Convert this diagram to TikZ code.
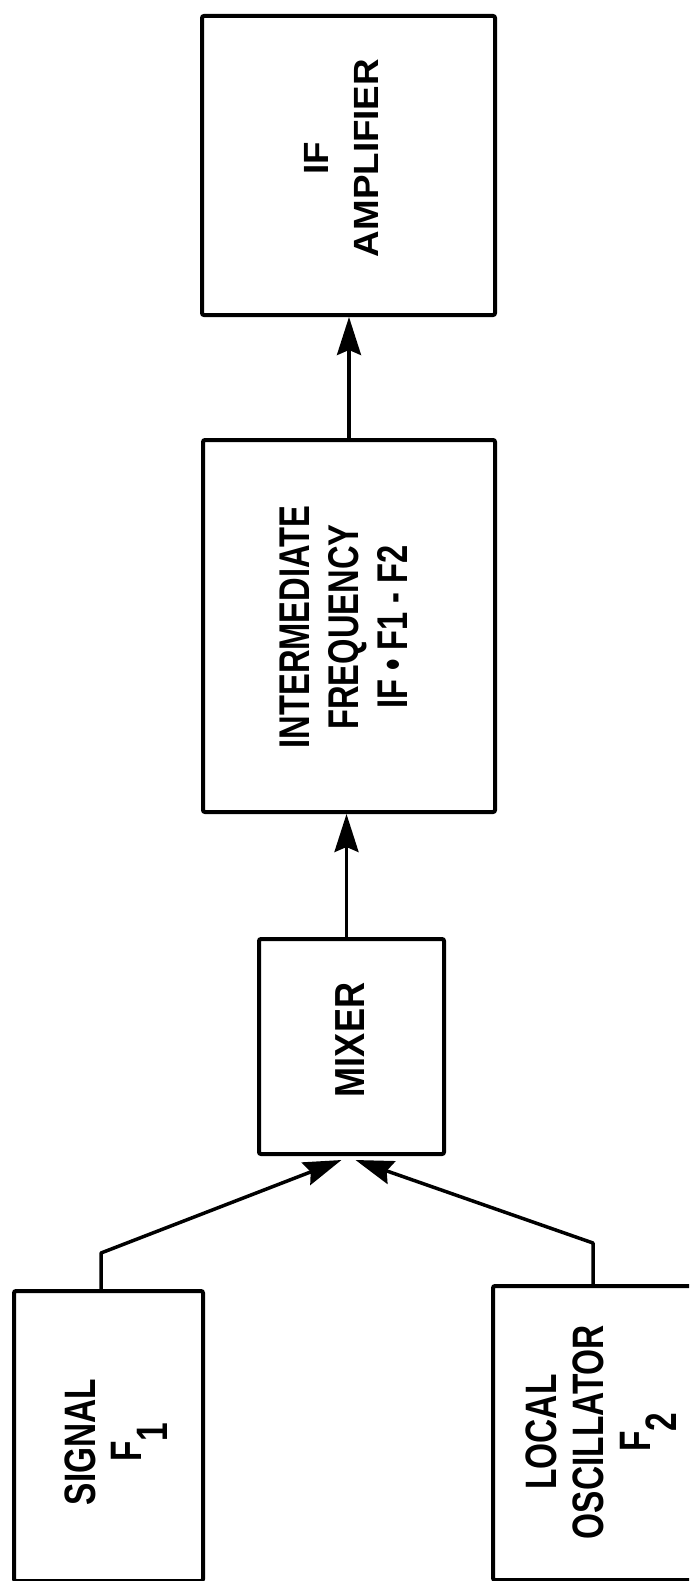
\documentclass[tikz,border=0pt]{standalone}
\usepackage{fontspec}
\setmainfont{Liberation Sans}
\newfontfamily\cond[FakeStretch=0.76]{Liberation Sans Bold}
\newfontfamily\mixf[FakeStretch=0.86]{Liberation Sans Bold}
\newfontfamily\ampf[FakeStretch=1.05]{Liberation Sans Bold}
\usetikzlibrary{arrows.meta}
\begin{document}
\begin{tikzpicture}[x=1pt,y=-1pt,
  blk/.style={draw,line width=4pt,rounded corners=2pt,inner sep=0pt,anchor=north west},
  lbl/.style={rotate=90,align=center,inner sep=0pt},
  conn/.style={line width=3.5pt,line join=round,-{Stealth[length=38pt,width=24pt,inset=5pt]}}]
\useasboundingbox (0,0) rectangle (689,1581);
\clip (0,0) rectangle (689,1581);
% boxes
\node[blk,minimum width=293pt,minimum height=299pt] (amp) at (200,14) {};
\node[blk,minimum width=292pt,minimum height=372pt] (ifreq) at (201,438) {};
\node[blk,minimum width=185pt,minimum height=215pt] (mixer) at (257,937) {};
\node[blk,minimum width=189pt,minimum height=290pt] (signal) at (12,1289) {};
\node[blk,minimum width=230pt,minimum height=294pt] (lo) at (491,1284) {};
% texts
\node[lbl,font=\ampf\fontsize{35}{50}\selectfont] (amptext) at (341,158) {IF\\AMPLIFIER};
\node[lbl,font=\cond\fontsize{43}{49}\selectfont] (iftext) at (344,627) {INTERMEDIATE\\FREQUENCY\\IF \textbullet{} F1 - F2};
\node[lbl,font=\mixf\fontsize{42}{48}\selectfont] (mixtext) at (350,1040) {MIXER};
\node[lbl,font=\cond\fontsize{44}{46}\selectfont] (sigtext) at (116,1442) {SIGNAL\\F\raisebox{-0.6em}{1}};
\node[lbl,font=\cond\fontsize{44}{47}\selectfont] (lotext) at (601,1432) {LOCAL\\OSCILLATOR\\F\raisebox{-0.6em}{2}};
% connectors
\coordinate (sigbend) at (101,1253);
\coordinate (lobend) at (593,1243);
\coordinate (tip1) at ([xshift=-10pt,yshift=-4pt]mixer.south);
\coordinate (tip2) at ([xshift=4pt,yshift=-4pt]mixer.south);
\draw[conn] (signal.north -| sigbend) -- (sigbend) -- (tip1);
\draw[conn] (lo.north -| lobend) -- (lobend) -- (tip2);
\draw[conn] ([xshift=-5pt]mixer.north) -- ([xshift=-5pt]mixer.north |- ifreq.south);
\draw[conn] (ifreq.north) -- (ifreq.north |- amp.south);
\end{tikzpicture}
\end{document}
